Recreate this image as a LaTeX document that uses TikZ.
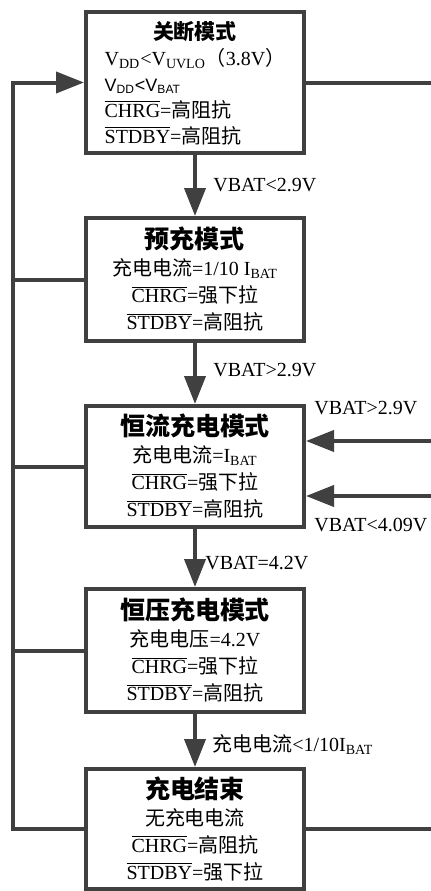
\documentclass[tikz,border=0pt]{standalone}
\usepackage{fontspec}
\setmainfont{Liberation Serif}
\newfontfamily\cjk{Noto Sans CJK SC}
\newfontfamily\arialfont{Liberation Sans}
\usetikzlibrary{arrows.meta}
\definecolor{linegray}{HTML}{404040}
\tikzset{
    modebox/.style={draw=linegray, line width=2pt, minimum width=109pt, inner sep=0pt,
        align=center, font=\fontsize{10}{13.5}\selectfont},
    flow/.style={draw=linegray, line width=2pt, -{Triangle[length=14pt,width=10.5pt]}},
    wire/.style={draw=linegray, line width=2pt},
    cond/.style={anchor=west, inner sep=0pt, font=\fontsize{10}{12}\selectfont},
}
\newcommand{\zh}[1]{{\cjk #1}}
\newcommand{\ttl}[1]{{\cjk\bfseries\fontsize{12.5}{15}\selectfont #1}}
\newcommand{\ttlsmall}[1]{{\cjk\bfseries\fontsize{10.5}{13.5}\selectfont #1}}
\newcommand{\nbar}[1]{$\overline{\mbox{#1}}$}
\renewcommand{\arraystretch}{0.963}

\begin{document}
\begin{tikzpicture}[x=0.5pt,y=-0.5pt]
\useasboundingbox (0,0) rectangle (430,891);

\node[modebox, minimum height=70.5pt] (p1) at (195,82.5) {%
\begin{tabular}{@{}l@{}}
\multicolumn{1}{@{}c@{}}{\rule{0pt}{13pt}\ttlsmall{关断模式}}\\
V\textsubscript{DD}<V\textsubscript{UVLO}\zh{（}3.8V\zh{）}\\
{\arialfont\fontsize{9}{10}\selectfont V\textsubscript{DD}<V\textsubscript{BAT}}\\
\nbar{CHRG}=\zh{高阻抗}\\
\nbar{STDBY}=\zh{高阻抗}
\end{tabular}};
\node[modebox, minimum height=61.5pt] (p2) at (195,279.5) {\ttl{预充模式}\\
\zh{充电电流}=1/10 I\textsubscript{BAT}\\ \nbar{CHRG}=\zh{强下拉}\\ \nbar{STDBY}=\zh{高阻抗}};
\node[modebox, minimum height=60.5pt] (p3) at (195,466.5) {\ttl{恒流充电模式}\\
\zh{充电电流}=I\textsubscript{BAT}\\ \nbar{CHRG}=\zh{强下拉}\\ \nbar{STDBY}=\zh{高阻抗}};
\node[modebox, minimum height=61.5pt] (p4) at (195,650.5) {\ttl{恒压充电模式}\\
\zh{充电电压}=4.2V\\ \nbar{CHRG}=\zh{强下拉}\\ \nbar{STDBY}=\zh{高阻抗}};
\node[modebox, minimum height=60pt] (p5) at (195,829) {\ttl{充电结束}\\
\zh{无充电电流}\\ \nbar{CHRG}=\zh{高阻抗}\\ \nbar{STDBY}=\zh{强下拉}};

\node[cond] (c12) at (213,185) {VBAT<2.9V};
\node[cond] (c23) at (213,370) {VBAT>2.9V};
\node[cond] (cin1) at (314,408) {VBAT>2.9V};
\node[cond] (cin2) at (314,525) {VBAT<4.09V};
\node[cond] (c34) at (205,563) {VBAT=4.2V};
\node[cond] (c45) at (212,745) {\zh{充电电流}<1/10I\textsubscript{BAT}};

\draw[flow] (p1.south) -- (p2.north);
\draw[flow] (p2.south) -- (p3.north);
\draw[flow] (p3.south) -- (p4.north);
\draw[flow] (p4.south) -- (p5.north);

\coordinate (bus) at (13,0);
\draw[flow] (p5.west) -- (p5.west -| bus) |- (p1.west);
\foreach \n in {p2,p3,p4}
    \draw[wire] (\n.west) -- (\n.west -| bus);

\coordinate (edge) at (434,0);
\coordinate (in1) at (434,441);
\coordinate (in2) at (434,496);
\draw[wire] (p1.east) -- (p1.east -| edge);
\draw[wire] (p5.east) -- (p5.east -| edge);
\draw[flow] (in1) -- (in1 -| p3.east);
\draw[flow] (in2) -- (in2 -| p3.east);
\end{tikzpicture}
\end{document}
